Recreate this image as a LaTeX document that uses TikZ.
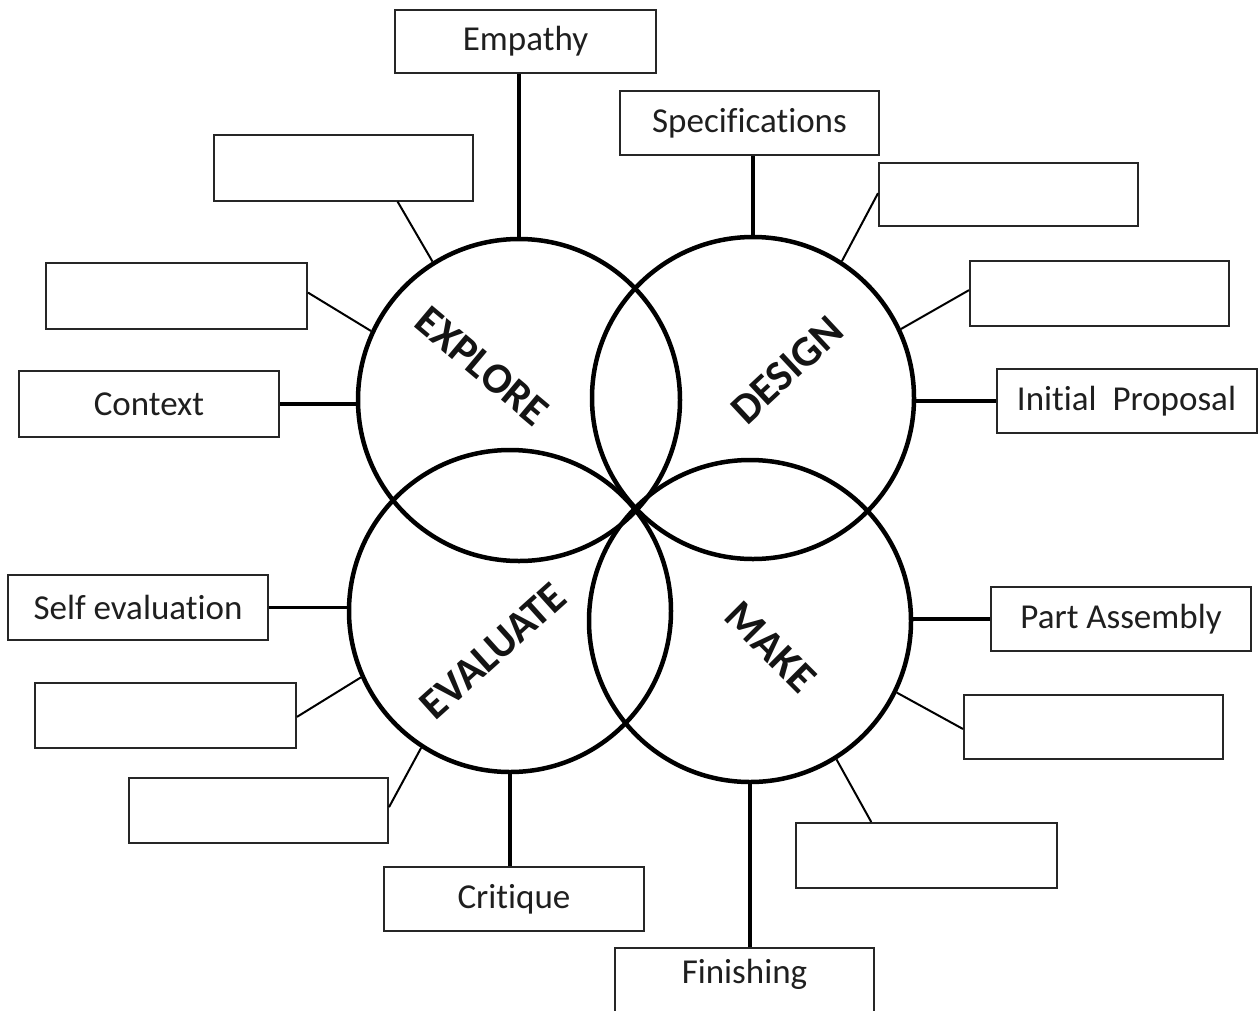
\documentclass[tikz,border=0pt]{standalone}
\usepackage{fontspec}
\setmainfont{Carlito}[Ligatures=NoCommon]
\usetikzlibrary{calc}
\begin{document}
\begin{tikzpicture}[x=1pt,y=-1pt,
  ring/.style={circle, draw=black, line width=4.5pt, minimum size=322pt, inner sep=0pt},
  box/.style={draw=black!85, line width=2pt, fill=white, minimum width=260pt, minimum height=64pt,
              inner sep=0pt, font=\fontsize{35}{40}\selectfont, text=black!88},
  lab/.style={font=\fontsize{43}{48}\selectfont\bfseries, inner sep=0pt, text=black!92},
  stem/.style={draw=black, line width=3.2pt},
  spoke/.style={draw=black, line width=2pt}]
\useasboundingbox[fill=white] (0,0) rectangle (1258,1010);

% circles
\node[ring] (explore)  at (519,400) {};
\node[ring] (design)   at (753,398) {};
\node[ring] (evaluate) at (510,611) {};
\node[ring] (make)     at (750,621) {};

% circle labels
\node[lab, rotate=-40] (lexplore)  at (482,366) {EXPLORE};
\node[lab, rotate=43]  (ldesign)   at (787,370) {DESIGN};
\node[lab, rotate=42]  (levaluate) at (493,651) {EVALUATE};
\node[lab, rotate=-45] (lmake)     at (771,647) {MAKE};

% boxes
\node[box, minimum width=261pt, minimum height=63pt] (empathy) at (525.5,41.5) {Empathy};
\node[box, minimum width=259pt, minimum height=66pt] (b2) at (343.5,167.5) {};
\node[box, minimum width=261pt, minimum height=66pt] (b3) at (176.5,296) {};
\node[box, minimum width=260pt, minimum height=66pt] (context) at (149,404) {Context};
\node[box, minimum width=259pt, minimum height=64pt] (specs) at (749.5,123) {Specifications};
\node[box, minimum width=259pt, minimum height=63pt] (b6) at (1008.5,194.5) {};
\node[box, minimum width=259pt, minimum height=65pt] (b7) at (1099.5,293.5) {};
\node[box, minimum width=260pt, minimum height=64pt] (proposal) at (1126.5,401) {Initial\ \ Proposal};
\node[box, minimum width=260pt, minimum height=65pt] (selfeval) at (138,607.5) {Self evaluation};
\node[box, minimum width=261pt, minimum height=65pt] (b10) at (165.5,715.5) {};
\node[box, minimum width=259pt, minimum height=65pt] (b11) at (258.5,810.5) {};
\node[box, minimum width=260pt, minimum height=64pt] (critique) at (514,899) {Critique};
\node[box, minimum width=260pt, minimum height=64pt] (assembly) at (1121,619) {Part Assembly};
\node[box, minimum width=259pt, minimum height=64pt] (b14) at (1093.5,727) {};
\node[box, minimum width=261pt, minimum height=65pt] (b15) at (926.5,855.5) {};
\node[box, minimum width=259pt, minimum height=66pt, anchor=north] (finishing) at (744.5,947) {};
\node[font=\fontsize{35}{40}\selectfont, text=black!88, inner sep=0pt] (finishingtext) at (744.5,974) {Finishing};

% connectors: EXPLORE
\draw[stem] (explore.north) -- (explore.north |- empathy.south);
\draw[spoke] (explore.122) -- ($(b2.south west)!0.707!(b2.south east)$);
\draw[spoke] (explore.155) -- ($(b3.north east)!0.45!(b3.south east)$);
\draw[stem] (context.east) -- (context.east -| explore.west);

% connectors: DESIGN
\draw[stem] (design.north) -- (design.north |- specs.south);
\draw[spoke] (design.57) -- ($(b6.north west)!0.48!(b6.south west)$);
\draw[spoke] (design.25) -- ($(b7.north west)!0.45!(b7.south west)$);
\draw[stem] (proposal.west) -- (proposal.west -| design.east);

% connectors: EVALUATE
\draw[stem] (selfeval.east) -- (selfeval.east -| evaluate.west);
\draw[spoke] (evaluate.204) -- ($(b10.north east)!0.52!(b10.south east)$);
\draw[spoke] (evaluate.237) -- ($(b11.north east)!0.45!(b11.south east)$);
\draw[stem] (evaluate.south) -- (evaluate.south |- critique.north);

% connectors: MAKE
\draw[stem] (assembly.west) -- (assembly.west -| make.east);
\draw[spoke] (make.-26) -- ($(b14.north west)!0.53!(b14.south west)$);
\draw[spoke] (make.-58) -- ($(b15.north west)!0.29!(b15.north east)$);
\draw[stem] (make.south) -- (make.south |- finishing.north);
\end{tikzpicture}
\end{document}
